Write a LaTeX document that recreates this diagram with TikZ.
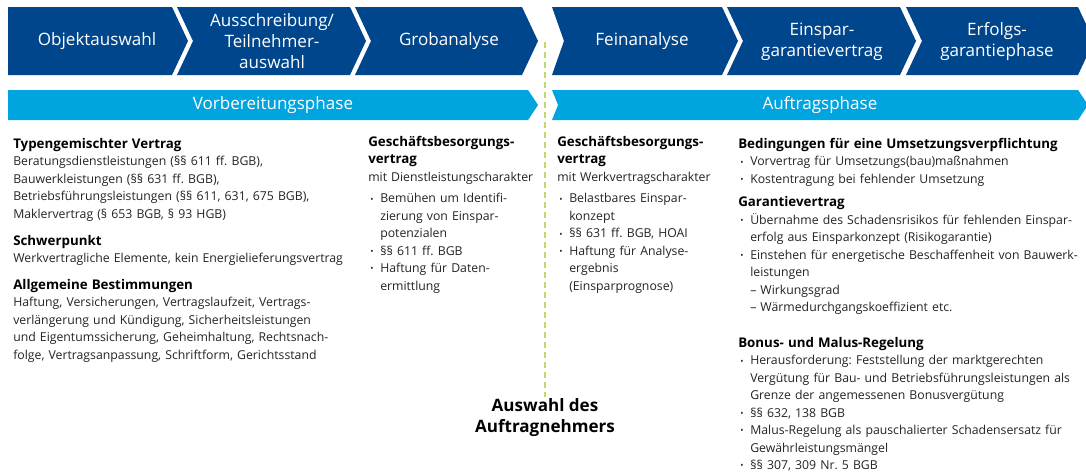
\documentclass[tikz,border=0pt]{standalone}
\usepackage{fontspec}
\setmainfont{Open Sans}
\frenchspacing

\definecolor{dunkelblau}{RGB}{0,70,140}
\definecolor{hellblau}{RGB}{0,164,222}
\definecolor{trenngruen}{RGB}{196,214,110}
\definecolor{textgrau}{RGB}{35,35,35}

% Aufzaehlungspunkt, Einzug fuer Folgezeilen, Zwischenueberschrift
\newcommand{\punkt}{\makebox[9pt][l]{\hspace{1.5pt}\raisebox{0.6pt}{\fontsize{6.5}{6.5}\selectfont\textbullet}}}
\newcommand{\einzug}{\hspace*{9pt}}
\newcommand{\kopf}[1]{{\fontsize{10}{13.1}\selectfont\bfseries\color{black}#1}}

\tikzset{
  phasebox/.style={fill=dunkelblau},
  phasebar/.style={fill=hellblau},
  boxtext/.style={text=white, align=center, font=\fontsize{12.8}{15.75}\selectfont, inner sep=0pt},
  spalte/.style={anchor=north west, align=left, inner sep=0pt, text=textgrau,
    font=\fontsize{9.2}{13.1}\selectfont},
  trennlinie/.style={draw=trenngruen, line width=1.5pt, dash pattern=on 4.5pt off 3pt},
  auswahltext/.style={align=center, font=\bfseries\fontsize{12.8}{15.75}\selectfont, inner sep=1pt}
}

\begin{document}
\begin{tikzpicture}[x=0.75pt, y=-0.75pt]
\useasboundingbox (0,0) rectangle (1086,472);
\clip (0,0) rectangle (1086,472);

% Prozessschritte oben
\fill[phasebox] (8,7) -- (172,7) -- (188,41) -- (172,75) -- (8,75) -- cycle;
\node[boxtext] (objekt) at (97,41) {Objektauswahl};
\fill[phasebox] (177,7) -- (350,7) -- (366,41) -- (350,75) -- (177,75) -- (193,41) -- cycle;
\node[boxtext] (ausschreibung) at (272,41) {Ausschreibung/\\Teilnehmer-\\auswahl};
\fill[phasebox] (355,7) -- (522,7) -- (538,41) -- (522,75) -- (355,75) -- (371,41) -- cycle;
\node[boxtext] (grob) at (449,41) {Grobanalyse};
\fill[phasebox] (552,7) -- (722,7) -- (738,41) -- (722,75) -- (552,75) -- (564,41) -- cycle;
\node[boxtext] (fein) at (642,41) {Feinanalyse};
\fill[phasebox] (727,7) -- (900,7) -- (916,41) -- (900,75) -- (727,75) -- (743,41) -- cycle;
\node[boxtext] (einspar) at (822,42) {Einspar-\\garantievertrag};
\fill[phasebox] (906,7) -- (1078,7) -- (1094,41) -- (1078,75) -- (906,75) -- (922,41) -- cycle;
\node[boxtext] (erfolg) at (997,42) {Erfolgs-\\garantiephase};

% Phasenbalken
\fill[phasebar] (8,90) -- (528,90) -- (538,105) -- (528,120) -- (8,120) -- cycle;
\node[boxtext] (vorbereitung) at (273,105) {Vorbereitungsphase};
\fill[phasebar] (552,90) -- (1078,90) -- (1088,105) -- (1078,120) -- (552,120) -- (558,105) -- cycle;
\node[boxtext] (auftrag) at (820,105) {Auftragsphase};

% Spalte 1
\node[spalte, text width=300pt] (typen) at (13,138) {\kopf{Typengemischter Vertrag}\\
Beratungsdienstleistungen (§§ 611 ff. BGB),\\
Bauwerkleistungen (§§ 631 ff. BGB),\\
Betriebsführungsleistungen (§§ 611, 631, 675 BGB),\\
Maklervertrag (§ 653 BGB, § 93 HGB)\\[7pt]
\kopf{Schwerpunkt}\\
Werkvertragliche Elemente, kein Energielieferungsvertrag\\[7pt]
\kopf{Allgemeine Bestimmungen}\\
Haftung, Versicherungen, Vertragslaufzeit, Vertrags-\\
verlängerung und Kündigung, Sicherheitsleistungen\\
und Eigentumssicherung, Geheimhaltung, Rechtsnach-\\
folge, Vertragsanpassung, Schriftform, Gerichtsstand};

% Spalte 2
\node[spalte, text width=150pt] (dienst) at (368,136) {\kopf{Geschäftsbesorgungs-}\\
\kopf{vertrag}\\
mit Dienstleistungscharakter\\[3pt]
\punkt Bemühen um Identifi-\\
\einzug zierung von Einspar-\\
\einzug potenzialen\\
\punkt §§ 611 ff. BGB\\
\punkt Haftung für Daten-\\
\einzug ermittlung};

% Spalte 3
\node[spalte, text width=150pt] (werk) at (557,136) {\kopf{Geschäftsbesorgungs-}\\
\kopf{vertrag}\\
mit Werkvertragscharakter\\[3pt]
\punkt Belastbares Einspar-\\
\einzug konzept\\
\punkt §§ 631 ff. BGB, HOAI\\
\punkt Haftung für Analyse-\\
\einzug ergebnis\\
\einzug (Einsparprognose)};

% Spalte 4
\node[spalte, text width=300pt] (bedingungen) at (738,138) {\kopf{Bedingungen für eine Umsetzungsverpflichtung}\\
\punkt Vorvertrag für Umsetzungs(bau)maßnahmen\\
\punkt Kostentragung bei fehlender Umsetzung\\[4.5pt]
\kopf{Garantievertrag}\\
\punkt Übernahme des Schadensrisikos für fehlenden Einspar-\\
\einzug erfolg aus Einsparkonzept (Risikogarantie)\\
\punkt Einstehen für energetische Beschaffenheit von Bauwerk-\\
\einzug leistungen\\
\einzug – Wirkungsgrad\\
\einzug – Wärmedurchgangskoeffizient etc.};
\node[spalte, text width=300pt] (bonus) at (738,337) {\kopf{Bonus- und Malus-Regelung}\\
\punkt Herausforderung: Feststellung der marktgerechten\\
\einzug Vergütung für Bau- und Betriebsführungsleistungen als\\
\einzug Grenze der angemessenen Bonusvergütung\\
\punkt §§ 632, 138 BGB\\
\punkt Malus-Regelung als pauschalierter Schadensersatz für\\
\einzug Gewährleistungsmängel\\
\punkt §§ 307, 309 Nr. 5 BGB};

% Trennlinie und Auswahl
\node[auswahltext] (auswahl) at (545,418) {Auswahl des\\Auftragnehmers};
\coordinate (trennoben) at (545,42);
\draw[trennlinie] (trennoben) -- (auswahl.north);
\end{tikzpicture}
\end{document}
